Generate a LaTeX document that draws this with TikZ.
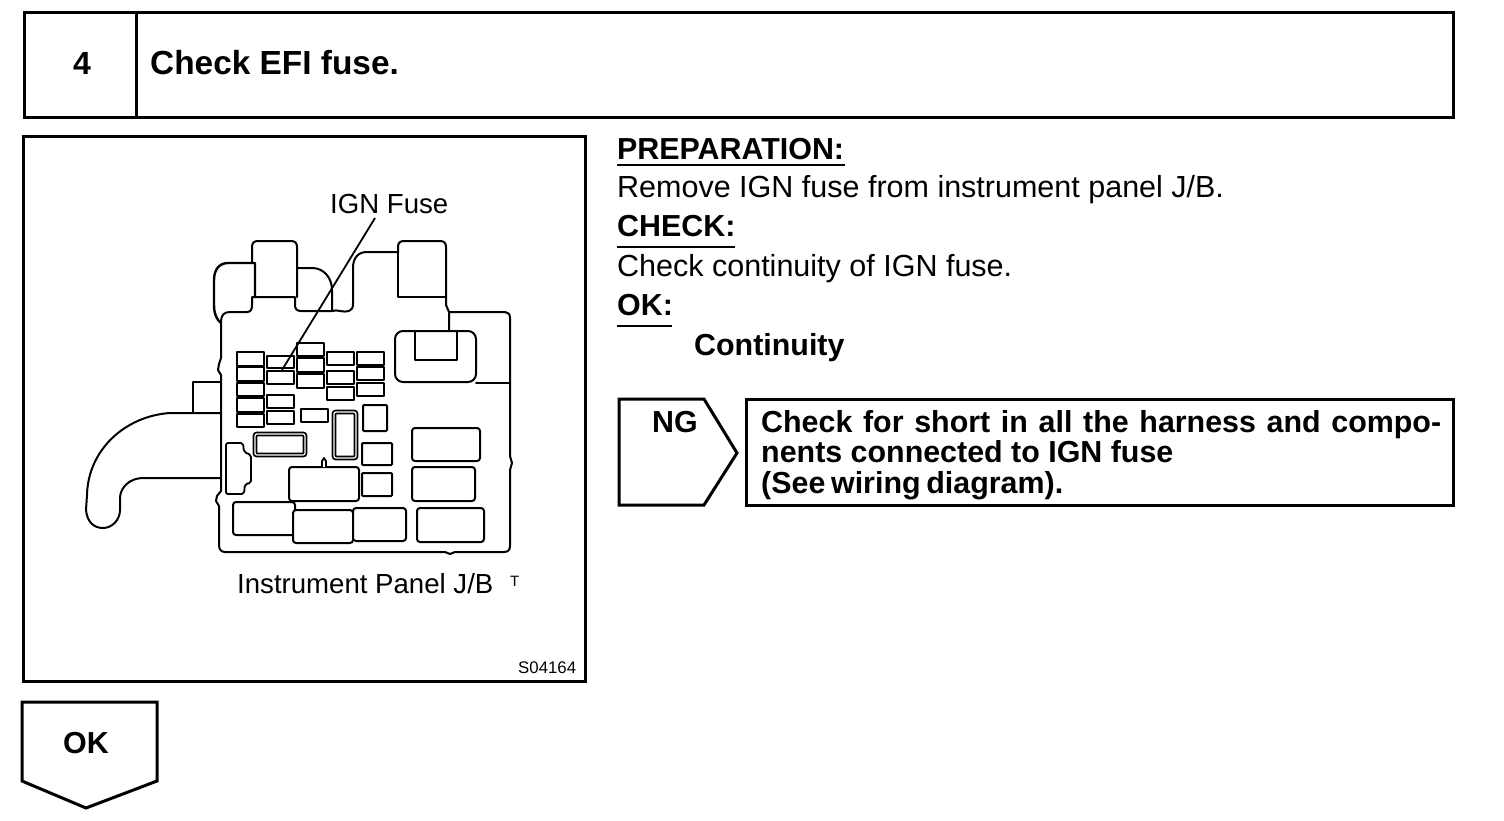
\documentclass[tikz,border=0pt]{standalone}
\usepackage{fontspec}
\setmainfont{Liberation Sans}
\newcommand{\fz}[1]{\fontsize{#1}{#1}\selectfont}
\tikzset{
  frame/.style={draw=black,line width=3pt,line join=miter},
  outline/.style={draw=black,line width=2pt,line join=round,line cap=round},
  fuse/.style={draw=black,line width=2.4pt,line join=round},
  relay/.style={draw=black,line width=2pt,rounded corners=3pt},
  square/.style={draw=black,line width=2pt,rounded corners=1pt},
  wide/.style={draw=black,line width=1.8pt,double=white,double distance=1.2pt,rounded corners=2pt},
  rule/.style={draw=black,line width=1.6pt},
  body/.style={anchor=base west,inner sep=0pt,font=\fz{30.5}},
  head/.style={anchor=base west,inner sep=0pt,font=\fz{30.4}\bfseries},
  label/.style={anchor=base west,inner sep=0pt,font=\fz{27.6}},
}
\begin{document}
\begin{tikzpicture}[x=1pt,y=-1pt]
\useasboundingbox[fill=white] (0,0) rectangle (1504,820);
% frames
\draw[frame] (24,12) rectangle (1453,117);
\draw[frame] (136,12) -- (136,117);
\draw[frame] (23,136) rectangle (585,681);
\draw[frame] (746,399) rectangle (1453,505);
\draw[frame] (619,399) -- (704,399) -- (737,453) -- (704,505) -- (619,505) -- cycle;
\draw[frame] (22,702) -- (157,702) -- (157,781) -- (86,808) -- (22,781) -- cycle;
% texts
\node[head,font=\fz{32}\bfseries] (stepno) at (73,74) {4};
\node[head,font=\fz{33.4}\bfseries] (title) at (150,74) {Check EFI fuse.};
\node[head] (prep) at (617,159) {PREPARATION:};
\node[body] (prept) at (617,197) {Remove IGN fuse from instrument panel J/B.};
\node[head] (chk) at (617,236) {CHECK:};
\node[body] (chkt) at (617,276) {Check continuity of IGN fuse.};
\node[head] (okh) at (617,315) {OK:};
\node[head] (cont) at (694,355) {Continuity};
\node[head] (ng) at (652,432) {NG};
\node[head] (l1) at (761,432) {\makebox[680pt][s]{Check for short in all the harness and compo-}};
\node[head] (l2) at (761,462) {nents connected to IGN fuse};
\node[head] (l3) at (761,493) {\makebox[302pt][s]{(See wiring diagram).}};
\node[head] (okt) at (63,753) {OK};
\draw[rule] (617,165) -- (845,165);
\draw[rule] (617,247) -- (735,247);
\draw[rule] (617,326) -- (672,326);
\node[label] (ign) at (330,213) {IGN Fuse};
\node[label] (ipjb) at (237,593) {Instrument Panel J/B};
\node[anchor=base west,inner sep=0pt,font=\fz{15}] (tm) at (510,586) {T};
\node[anchor=base west,inner sep=0pt,font=\fz{16.8}] (code) at (518,673) {S04164};
% leader
\coordinate (la) at (375,218);
\coordinate (lb) at (282,370);
\draw[line width=1.8pt] (la) -- (lb);
% J/B outline
\draw[outline] (221,340) -- (221,322) .. controls (221,315) and (224,312) .. (230,312)
  -- (247,312) .. controls (251,312) and (252,309) .. (252,305) -- (252,297) -- (295,297)
  -- (295,305) .. controls (295,309) and (297,311) .. (301,311) -- (332,311)
  .. controls (337,309) and (343,313) .. (349,311) .. controls (352,310) and (353,308) .. (353,303)
  -- (353,268) .. controls (353,258) and (358,252) .. (367,252) -- (398,252);
\draw[outline] (252,263) -- (252,247) .. controls (252,243) and (254,241) .. (258,241) -- (291,241)
  .. controls (295,241) and (297,243) .. (297,247) -- (297,297);
\draw[outline,line width=2.4pt] (255,297) -- (255,263) -- (228,263) .. controls (219,263) and (214,270) .. (214,280)
  -- (214,305) .. controls (214,314) and (217,320) .. (221,323);
\draw[outline] (297,268) -- (312,268) .. controls (324,268) and (332,278) .. (332,290) -- (332,311);
\draw[outline] (398,252) -- (398,247) .. controls (398,243) and (400,241) .. (404,241) -- (440,241)
  .. controls (444,241) and (446,243) .. (446,247) -- (446,305) .. controls (446,308) and (449,309) .. (449,312) -- (449,331);
\draw[outline] (398,252) -- (398,297) -- (446,297);
\draw[outline] (449,312) -- (505,312) .. controls (508,312) and (510,314) .. (510,318) -- (510,456)
  -- (512,463) -- (510,470) -- (510,546) .. controls (510,550) and (508,552) .. (504,552)
  -- (455,552) -- (450,554) -- (445,552) -- (225,552) .. controls (221,552) and (219,549) .. (219,545)
  -- (219,506) -- (216,501) -- (217,496) -- (221,491) -- (221,375) -- (218,370) -- (219,364) -- (221,358) -- (221,340);
% harness
\draw[outline] (193,413) -- (193,382) -- (221,382);
\draw[outline] (221,413) -- (170,413) .. controls (125,416) and (88,450) .. (87,495)
  -- (86,510) .. controls (87,522) and (94,528) .. (103,528) .. controls (112,528) and (120,520) .. (120,510)
  -- (120,497) .. controls (121,486) and (131,478) .. (143,478) -- (221,478);
% top right block
\draw[outline,rounded corners=8pt] (395,331) rectangle (476,382);
\draw[outline] (415,331) -- (415,360) -- (457,360) -- (457,331);
\draw[outline] (476,383) -- (510,383);
% fuses
\foreach \a/\b/\c/\d in {
 237/352/264/366, 237/367/264/381, 237/383/264/396, 237/398/264/412, 237/414/264/427,
 267/356/294/368, 267/371/294/384, 267/395/294/408, 267/411/294/424,
 297/343/324/356, 297/358/324/372, 297/374/324/388, 301/409/328/422,
 327/352/354/365, 327/371/354/384, 327/387/354/400,
 357/352/384/365, 357/367/384/380, 357/383/384/396}
  \draw[fuse] (\a,\b) rectangle (\c,\d);
% relays
\foreach \a/\b/\c/\d in {
 412/428/480/461, 412/467/475/501, 417/508/484/542,
 233/502/295/535, 293/510/353/543, 353/508/406/541, 289/467/359/501}
  \draw[relay,fill=white] (\a,\b) rectangle (\c,\d);
\foreach \a/\b/\c/\d in {363/405/387/431, 362/443/392/465, 362/473/392/496}
  \draw[square] (\a,\b) rectangle (\c,\d);
\draw[outline,line width=1.8pt,fill=white] (322,467) -- (322,461) -- (324,458) -- (326,461) -- (326,467);
\draw[wide] (334,412) rectangle (356,458);
\draw[wide] (255,434) rectangle (305,455);
% small connector
\draw[outline,line width=1.8pt,rounded corners=2pt] (226,443) -- (243,443) -- (244,452) -- (251,455) -- (251,483) -- (245,484) -- (244,494) -- (226,494) -- cycle;
\end{tikzpicture}
\end{document}
